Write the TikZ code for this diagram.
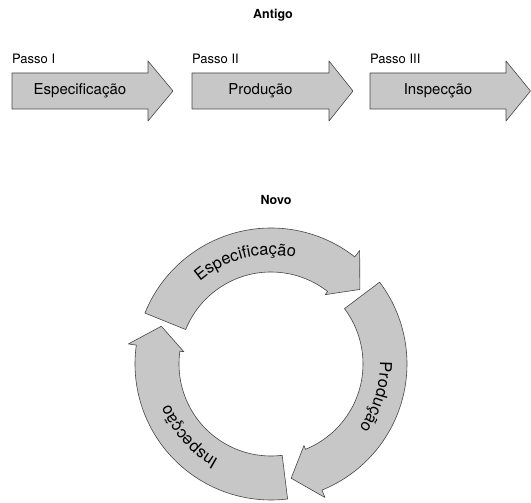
\documentclass[tikz,border=0pt]{standalone}
\usepackage{fontspec}
\setmainfont{TeX Gyre Heros}
\usetikzlibrary{decorations.text}
\newcommand\circfont{\fontsize{16.5}{18}\selectfont}
\tikzset{
  shapefill/.style={fill=black!22, draw=black!72, line width=0.6pt, line join=round},
  steptext/.style={font=\fontsize{15}{18}\selectfont, inner sep=0pt},
  steplabel/.style={font=\fontsize{13}{15}\selectfont, anchor=base west, inner sep=0pt},
  titletext/.style={font=\bfseries\fontsize{12.5}{15}\selectfont, inner sep=0pt},
  arctext/.style={decorate, decoration={text along path, text align=center}}
}
\begin{document}
\begin{tikzpicture}[x=1pt,y=1pt]
\useasboundingbox[fill=white] (0,0) rectangle (531,503);
% ---- Antigo ----
\node[titletext] (antigo) at (273,488) {Antigo};
\draw[shapefill] (12,394) -- (12,430) -- (148,430) -- (148,442) -- (173,412) -- (148,382) -- (148,394) -- cycle;
\draw[shapefill] (192,394) -- (192,430) -- (329,430) -- (329,442) -- (353,412) -- (329,382) -- (329,394) -- cycle;
\draw[shapefill] (370,394) -- (370,430) -- (506,430) -- (506,442) -- (530.5,412) -- (506,382) -- (506,394) -- cycle;
\node[steplabel] (p1) at (12,439) {Passo I};
\node[steplabel] (p2) at (192,439) {Passo II};
\node[steplabel] (p3) at (370,439) {Passo III};
\node[steptext] (t1) at (80,412) {Especificação};
\node[steptext] (t2) at (260.5,412) {Produção};
\node[steptext] (t3) at (438,412) {Inspecção};
% ---- Novo ----
\node[titletext] (novo) at (276,303) {Novo};
\begin{scope}[shift={(271,139)}]
  \draw[shapefill] (158:136) arc[start angle=158, end angle=52, radius=136]
     -- (52:144) -- (40:116) -- (52:88) -- (52:92)
     arc[start angle=52, end angle=158, radius=92] -- cycle;
  \draw[shapefill] (37:136) arc[start angle=37, end angle=-68, radius=136]
     -- (-68:144) -- (-80:116) -- (-68:88) -- (-68:92)
     arc[start angle=-68, end angle=37, radius=92] -- cycle;
  \draw[shapefill] (277:136) arc[start angle=277, end angle=172, radius=136]
     -- (172:144) -- (161:116) -- (172:88) -- (172:92)
     arc[start angle=172, end angle=277, radius=92] -- cycle;
  \path[arctext, decoration={text={|\circfont|Especificação}}]
     (139:109) arc[start angle=139, end angle=69, radius=109];
  \path[arctext, decoration={text={|\circfont|Produção}}]
     (17.5:109) arc[start angle=17.5, end angle=-52.5, radius=109];
  \path[arctext, decoration={text={|\circfont|Inspecção}}]
     (256.5:109) arc[start angle=256.5, end angle=186.5, radius=109];
\end{scope}
\end{tikzpicture}
\end{document}
